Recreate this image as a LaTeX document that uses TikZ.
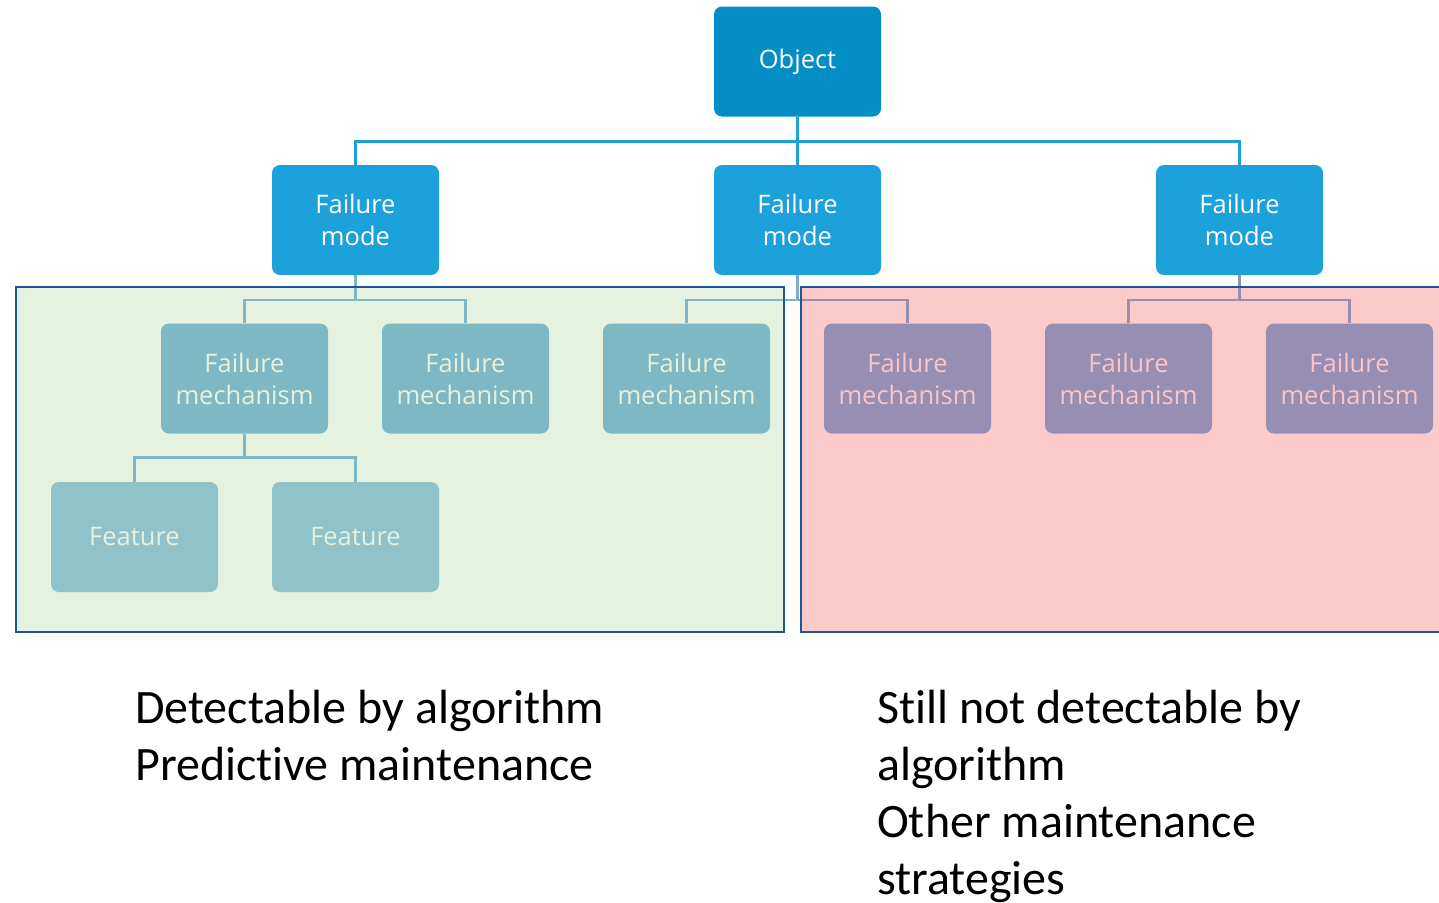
\documentclass[tikz,border=0pt]{standalone}
\usepackage{fontspec}
\setmainfont{Carlito}[Ligatures=NoCommon]
\newfontfamily\boxfont{Open Sans}
\definecolor{objc}{HTML}{038FC6}
\definecolor{fmc}{HTML}{1DA1DB}
\definecolor{gbg}{HTML}{E4F2DF}
\definecolor{pbg}{HTML}{FDCACA}
\definecolor{bord}{HTML}{1A569C}
\definecolor{gmc}{HTML}{7EB8C5}
\definecolor{ftc}{HTML}{90C2C9}
\definecolor{gtc}{HTML}{E4F2DC}
\definecolor{pmc}{HTML}{978FB3}
\definecolor{ptc}{HTML}{F9C5C9}
\definecolor{gln}{HTML}{7EB8C8}
\definecolor{pln}{HTML}{968FB5}
\definecolor{mln}{HTML}{86A8CC}
\begin{document}
\begin{tikzpicture}[x=1pt,y=-1pt,
  box/.style={rounded corners=8pt, minimum width=167pt, minimum height=110pt, inner sep=0pt, align=center, font=\boxfont\fontsize{25.5}{32}\selectfont},
  objbox/.style={box, fill=objc, text=white},
  fmbox/.style={box, fill=fmc, text=white},
  gmbox/.style={box, fill=gmc, text=gtc},
  ftbox/.style={box, fill=ftc, text=gtc},
  pmbox/.style={box, fill=pmc, text=ptc},
  tl/.style={draw=fmc, line width=2.5pt},
  gl/.style={draw=gln, line width=2.5pt},
  pl/.style={draw=pln, line width=2.5pt},
  ml/.style={draw=mln, line width=2.5pt},
  region/.style={draw=bord, line width=2.8pt},
  note/.style={font=\fontsize{48}{57}\selectfont, align=left, inner sep=0pt, anchor=north west}
]
\useasboundingbox (0,0) rectangle (1439,902);
% regions
\fill[gbg] (16,287) rectangle (784,632);
\fill[pbg] (801,287) rectangle (1450,632);
% top tree
\node[objbox] (obj) at (797.5,61.5) {\raisebox{-2pt}{Object}};
\node[fmbox] (fm1) at (355.5,220) {Failure\\mode};
\node[fmbox] (fm2) at (797.5,220) {Failure\\mode};
\node[fmbox] (fm3) at (1239.5,220) {Failure\\mode};
\draw[tl] (obj.south) -- ++(0,25) -| (fm1.north);
\draw[tl] (obj.south) -- (fm2.north);
\draw[tl] (obj.south) -- ++(0,25) -| (fm3.north);
% mechanisms
\node[gmbox] (m1) at (244.5,378.5) {Failure\\mechanism};
\node[gmbox] (m2) at (465.5,378.5) {Failure\\mechanism};
\node[gmbox] (m3) at (686.5,378.5) {Failure\\mechanism};
\node[pmbox] (m4) at (907.5,378.5) {Failure\\mechanism};
\node[pmbox] (m5) at (1128.5,378.5) {Failure\\mechanism};
\node[pmbox] (m6) at (1349.5,378.5) {Failure\\mechanism};
\node[ftbox] (f1) at (134.5,537) {\raisebox{-1pt}{Feature}};
\node[ftbox] (f2) at (355.5,537) {\raisebox{-1pt}{Feature}};
% connectors
\draw[gl] (fm1.south) -- ++(0,25) -| (m1.north);
\draw[gl] (fm1.south) -- ++(0,25) -| (m2.north);
\draw[ml] (fm2.south) -- ++(0,25);
\draw[gl] (fm2.south) ++(0,25) -| (m3.north);
\draw[pl] (fm2.south) ++(0,25) -| (m4.north);
\draw[pl] (fm3.south) -- ++(0,25) -| (m5.north);
\draw[pl] (fm3.south) -- ++(0,25) -| (m6.north);
\draw[gl] (m1.south) -- ++(0,24) -| (f1.north);
\draw[gl] (m1.south) -- ++(0,24) -| (f2.north);
% region borders
\draw[region] (16,287) rectangle (784,632);
\draw[region] (801,287) rectangle (1450,632);
% notes
\node[note] (n1) at (135,690) {Detectable by algorithm\\Predictive maintenance};
\node[note] (n2) at (877,690) {Still not detectable by\\algorithm\\Other maintenance\\strategies};
\end{tikzpicture}
\end{document}
